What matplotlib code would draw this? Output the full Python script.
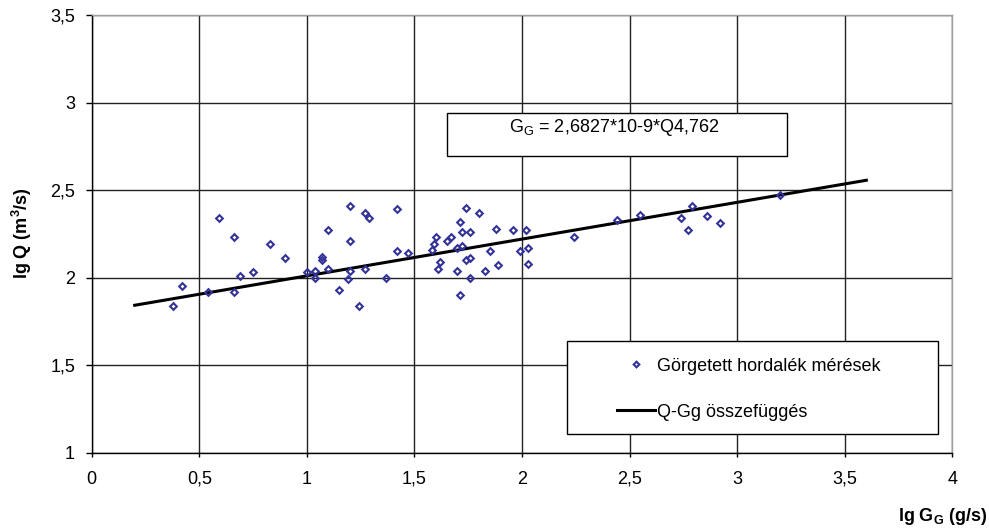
import matplotlib
matplotlib.use("Agg")
import numpy as np
import matplotlib.pyplot as plt
from matplotlib.patches import Rectangle
from matplotlib.ticker import FuncFormatter, MultipleLocator

plt.rcParams["font.family"] = ["Liberation Sans", "DejaVu Sans"]
plt.rcParams["mathtext.fontset"] = "custom"
plt.rcParams["mathtext.rm"] = "Liberation Sans"
plt.rcParams["mathtext.bf"] = "Liberation Sans:bold"

# mérési pontok (lg Gg, lg Q)
lg_gg = [0.38, 0.42, 0.59, 0.66, 0.66, 0.54, 0.69, 0.75, 0.83, 0.90,
         1.00, 1.04, 1.04, 1.10, 1.07, 1.07, 1.10, 1.15, 1.19, 1.20,
         1.20, 1.20, 1.24, 1.27, 1.27, 1.29, 1.37, 1.42, 1.42, 1.47,
         1.58, 1.59, 1.60, 1.61, 1.62, 1.65, 1.67, 1.70, 1.71, 1.70,
         1.72, 1.71, 1.72, 1.74, 1.74, 1.76, 1.76, 1.76, 1.80, 1.83,
         1.85, 1.88, 1.89, 1.96, 1.99, 2.02, 2.03, 2.03, 2.24, 2.44,
         2.55, 2.74, 2.77, 2.79, 2.86, 2.92, 3.20]
lg_q = [1.84, 1.95, 2.34, 2.23, 1.92, 1.92, 2.01, 2.03, 2.19, 2.11,
        2.03, 2.04, 2.00, 2.27, 2.12, 2.10, 2.05, 1.93, 1.99, 2.04,
        2.41, 2.21, 1.84, 2.05, 2.37, 2.34, 2.00, 2.39, 2.15, 2.14,
        2.16, 2.19, 2.23, 2.05, 2.09, 2.21, 2.23, 2.04, 1.90, 2.17,
        2.18, 2.32, 2.26, 2.40, 2.10, 2.11, 2.00, 2.26, 2.37, 2.04,
        2.15, 2.28, 2.07, 2.27, 2.15, 2.27, 2.17, 2.08, 2.23, 2.33,
        2.36, 2.34, 2.27, 2.41, 2.35, 2.31, 2.47]

# Q-Gg összefüggés: Gg = a * Q^b
coef_a = 2.6827e-9
coef_b = 4.762
fit_range = [0.2, 3.6]

fig = plt.figure(figsize=(9.89, 5.31), dpi=100)
ax = fig.add_axes([0.0927, 0.1475, 0.8703, 0.8243])

ax.plot(lg_gg, lg_q, linestyle="none", marker="D", ms=3.4, mfc="none",
        mec="#333399", mew=1.5, zorder=4, label="Görgetett hordalék mérések")

fx = np.array(fit_range)
fy = (fx - np.log10(coef_a)) / coef_b
ax.plot(fx, fy, color="black", lw=2.2, zorder=3, label="Q-Gg összefüggés")

ax.set_xlim(0, 4)
ax.set_ylim(1, 3.5)
ax.xaxis.set_major_locator(MultipleLocator(0.5))
ax.yaxis.set_major_locator(MultipleLocator(0.5))
comma = FuncFormatter(lambda v, p: ("%g" % v).replace(".", ","))
ax.xaxis.set_major_formatter(comma)
ax.yaxis.set_major_formatter(comma)
ax.grid(True, color="#222222", lw=1.0)
ax.set_axisbelow(True)
ax.tick_params(axis="y", length=4, width=1, pad=8, labelsize=13)
ax.tick_params(axis="x", length=3, width=1, pad=10, labelsize=13)
for s in ["top", "right"]:
    ax.spines[s].set_color("#a0a0a0")
    ax.spines[s].set_linewidth(1)
for s in ["left", "bottom"]:
    ax.spines[s].set_color("black")
    ax.spines[s].set_linewidth(1)

# egyenlet doboz
ax.add_patch(Rectangle((1.651, 2.697), 1.579, 0.242, facecolor="white",
                       edgecolor="black", lw=1, zorder=5))
ax.text(2.43, 2.86, r"G$_{\mathrm{G}}$ = 2,6827*10-9*Q4,762", ha="center", va="center",
        fontsize=13, zorder=6)

# jelmagyarázat doboz
ax.add_patch(Rectangle((0.5527, 0.0427), 0.4306, 0.2125, transform=ax.transAxes,
                       facecolor="white", edgecolor="black", lw=1, zorder=5))
leg = ax.legend(loc="upper left", bbox_to_anchor=(0.6105, 0.2170), frameon=False,
                fontsize=13, handlelength=2.1, handletextpad=0.1, labelspacing=1.6,
                borderpad=0, borderaxespad=0, markerscale=0.85)
leg.set_zorder(6)

fig.text(0.022, 0.56, r"lg Q (m$^{\mathbf{3}}$/s)", rotation=90, ha="center", va="center",
         fontsize=13, fontweight="bold")
fig.text(0.998, 0.027, r"lg G$_{\mathbf{G}}$ (g/s)", ha="right", va="center",
         fontsize=13, fontweight="bold")

fig.savefig("out.png", dpi=100)
